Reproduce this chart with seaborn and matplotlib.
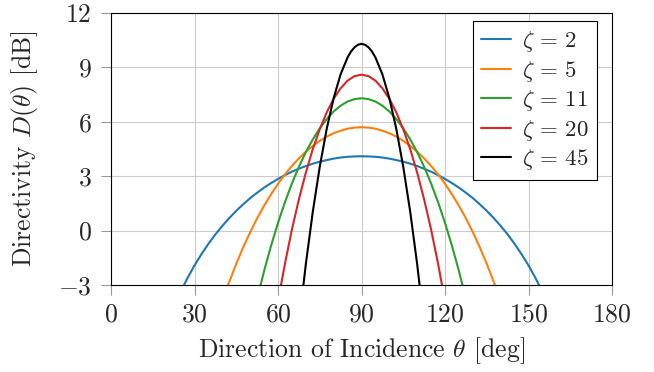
import matplotlib
matplotlib.use("Agg")
import matplotlib.pyplot as plt
import seaborn as sns
import pandas as pd

# --- data (theta in deg, directivity in dB) ---
theta_z2 = [25, 27.5, 30, 32.5, 35, 37.5, 40, 42.5, 45, 47.5, 50, 52.5, 55, 57.5, 60, 62.5, 65, 67.5,
            70, 72.5, 75, 77.5, 80, 82.5, 85, 87.5, 90, 92.5, 95, 97.5, 100, 102.5, 105, 107.5, 110,
            112.5, 115, 117.5, 120, 122.5, 125, 127.5, 130, 132.5, 135, 137.5, 140, 142.5, 145, 147.5,
            150, 152.5, 155]
d_z2 = [-3.38, -2.61, -1.92, -1.30, -0.73, -0.21, 0.26, 0.69, 1.09, 1.45, 1.79, 2.09, 2.37, 2.62, 2.85,
        3.06, 3.25, 3.41, 3.56, 3.69, 3.80, 3.89, 3.97, 4.03, 4.07, 4.09, 4.10, 4.09, 4.07, 4.03, 3.97,
        3.89, 3.80, 3.69, 3.56, 3.41, 3.25, 3.06, 2.85, 2.62, 2.37, 2.09, 1.79, 1.45, 1.09, 0.69, 0.26,
        -0.21, -0.73, -1.30, -1.92, -2.61, -3.38]

theta_z5 = [40, 42.5, 45, 47.5, 50, 52.5, 55, 57.5, 60, 62.5, 65, 67.5, 70, 72.5, 75, 77.5, 80, 82.5,
            85, 87.5, 90, 92.5, 95, 97.5, 100, 102.5, 105, 107.5, 110, 112.5, 115, 117.5, 120, 122.5,
            125, 127.5, 130, 132.5, 135, 137.5, 140]
d_z5 = [-3.90, -2.82, -1.83, -0.92, -0.09, 0.68, 1.37, 2.00, 2.58, 3.10, 3.57, 3.98, 4.35, 4.67, 4.95,
        5.18, 5.37, 5.51, 5.62, 5.68, 5.70, 5.68, 5.62, 5.51, 5.37, 5.18, 4.95, 4.67, 4.35, 3.98, 3.57,
        3.10, 2.58, 2.00, 1.37, 0.68, -0.09, -0.92, -1.83, -2.82, -3.90]

theta_z11 = [52.5, 55, 57.5, 60, 62.5, 65, 67.5, 70, 72.5, 75, 77.5, 80, 82.5, 85, 87.5, 90, 92.5, 95,
             97.5, 100, 102.5, 105, 107.5, 110, 112.5, 115, 117.5, 120, 122.5, 125, 127.5]
d_z11 = [-3.76, -2.23, -0.84, 0.43, 1.57, 2.60, 3.52, 4.33, 5.03, 5.64, 6.15, 6.57, 6.89, 7.12, 7.25,
         7.30, 7.25, 7.12, 6.89, 6.57, 6.15, 5.64, 5.03, 4.33, 3.52, 2.60, 1.57, 0.43, -0.84, -2.23, -3.76]

theta_z20 = [60, 62.5, 65, 67.5, 70, 72.5, 75, 77.5, 80, 82.5, 85, 87.5, 90, 92.5, 95, 97.5, 100, 102.5,
             105, 107.5, 110, 112.5, 115, 117.5, 120]
d_z20 = [-3.90, -1.82, 0.06, 1.72, 3.20, 4.49, 5.59, 6.52, 7.27, 7.85, 8.27, 8.52, 8.60, 8.52, 8.27,
         7.85, 7.27, 6.52, 5.59, 4.49, 3.20, 1.72, 0.06, -1.82, -3.90]

theta_z45 = [67.5, 70, 72.5, 75, 77.5, 80, 82.5, 85, 86.25, 87.5, 88.75, 90, 91.25, 92.5, 93.75, 95,
             97.5, 100, 102.5, 105, 107.5, 110, 112.5]
d_z45 = [-5.17, -1.85, 1.04, 3.52, 5.61, 7.31, 8.62, 9.55, 9.88, 10.11, 10.25, 10.30, 10.25, 10.11,
         9.88, 9.55, 8.62, 7.31, 5.61, 3.52, 1.04, -1.85, -5.17]

labels = [r"$\zeta \,=\, 2$", r"$\zeta \,=\, 5$", r"$\zeta \,=\, 11$", r"$\zeta \,=\, 20$",
          r"$\zeta \,=\, 45$"]
colors = ["#1f77b4", "#ff7f0e", "#2ca02c", "#d62728", "#000000"]
x_ticks = [0, 30, 60, 90, 120, 150, 180]
y_ticks = [-3, 0, 3, 6, 9, 12]

frames = []
for lab, th, d in zip(labels, [theta_z2, theta_z5, theta_z11, theta_z20, theta_z45],
                      [d_z2, d_z5, d_z11, d_z20, d_z45]):
    frames.append(pd.DataFrame({"theta": th, "D": d, "series": lab}))
df = pd.concat(frames, ignore_index=True)

sns.set_style("white")
plt.rcParams["font.family"] = ["cmr10"]
plt.rcParams["mathtext.fontset"] = "cm"
plt.rcParams["axes.formatter.use_mathtext"] = True
plt.rcParams["axes.unicode_minus"] = True

fig = plt.figure(figsize=(6.54, 3.72), dpi=100)
ax = fig.add_axes([111 / 654, 1 - 285 / 372, (612 - 111) / 654, (285 - 13) / 372])

sns.lineplot(data=df, x="theta", y="D", hue="series", palette=dict(zip(labels, colors)),
             hue_order=labels, linewidth=1.5, ax=ax, sort=False, estimator=None)

ax.set_xlim(0, 180)
ax.set_ylim(-3, 12)
ax.set_xticks(x_ticks)
ax.set_yticks(y_ticks)
ax.grid(True, color="#cccccc", linewidth=0.8)
ax.set_axisbelow(True)
for s in ax.spines.values():
    s.set_color("black")
    s.set_linewidth(0.8)
ax.tick_params(direction="out", length=7, width=0.8, color="#999999", labelsize=18.5,
               bottom=True, left=True)
ax.tick_params(axis="y", pad=7)
ax.tick_params(axis="x", pad=6)
ax.set_xlabel(r"Direction of Incidence $\theta$ [deg]", fontsize=18.5, labelpad=6)
ax.set_ylabel(r"Directivity $D(\theta)$ [dB]", fontsize=18.5, labelpad=13)

leg = ax.legend(loc="upper right", fontsize=16.5, frameon=True, fancybox=False, framealpha=1,
                edgecolor="black", handlelength=1.3, handletextpad=0.5, borderpad=0.35,
                labelspacing=0.2, borderaxespad=0, bbox_to_anchor=(0.970, 0.9706))
leg.get_frame().set_linewidth(0.8)

fig.savefig("out.png", dpi=100)
